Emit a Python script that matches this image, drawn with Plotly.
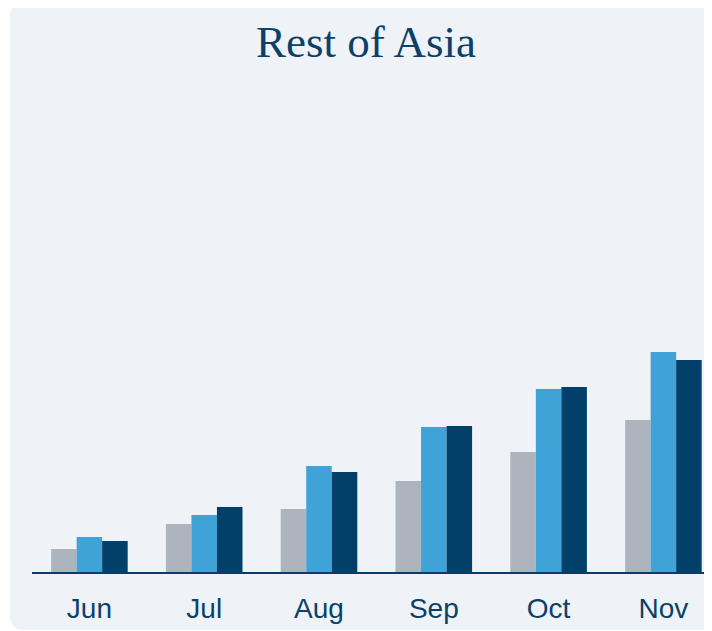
import plotly.graph_objects as go

months = ["Jun", "Jul", "Aug", "Sep", "Oct", "Nov"]
series_gray = [23, 48, 63, 91, 120, 152]
series_blue = [35, 57, 106, 145, 183, 220]
series_navy = [31, 65, 100, 146, 185, 212]

# page has an 8px body margin, so the figure is sized to fit the window
W, H = 704, 623
ML, MR, MT, MB = 24, 0, 82, 59
PW, PH = W - ML - MR, H - MT - MB

def px(x):
    return (x - ML) / PW

def py(y):
    return 1 - (y - MT) / PH

fig = go.Figure()
fig.add_bar(x=months, y=series_gray, marker_color="#adb4bd", marker_line_width=0, name="gray")
fig.add_bar(x=months, y=series_blue, marker_color="#3fa3d7", marker_line_width=0, name="blue")
fig.add_bar(x=months, y=series_navy, marker_color="#02406a", marker_line_width=0, name="navy")

# rounded panel
x0, y0, x1, y1, r = 2, -6, 730, 622, 14
path = (
    f"M {px(x0 + r)} {py(y0)} L {px(x1 - r)} {py(y0)} "
    f"Q {px(x1)} {py(y0)} {px(x1)} {py(y0 + r)} "
    f"L {px(x1)} {py(y1 - r)} Q {px(x1)} {py(y1)} {px(x1 - r)} {py(y1)} "
    f"L {px(x0 + r)} {py(y1)} Q {px(x0)} {py(y1)} {px(x0)} {py(y1 - r)} "
    f"L {px(x0)} {py(y0 + r)} Q {px(x0)} {py(y0)} {px(x0 + r)} {py(y0)} Z"
)
fig.add_shape(type="path", path=path, xref="paper", yref="paper",
              fillcolor="#eff3f7", line_width=0, layer="below")

fig.update_layout(
    width=W, height=H,
    margin=dict(l=ML, r=MR, t=MT, b=MB),
    paper_bgcolor="white",
    plot_bgcolor="rgba(0,0,0,0)",
    barmode="group",
    bargap=0.333,
    bargroupgap=0,
    showlegend=False,
    title=dict(text="Rest of Asia", x=358 / W, xref="container", xanchor="center",
               y=1 - 33 / H, yanchor="middle",
               font=dict(family="Liberation Serif", size=45, color="#0b4169")),
)
fig.update_xaxes(
    range=[-0.5, -0.5 + PW / 114.8],
    showline=True, linecolor="#02406a", linewidth=2,
    showgrid=False, zeroline=False,
    ticks="outside", ticklen=0, ticklabelstandoff=10,
    tickfont=dict(family="Liberation Sans", size=28, color="#0b4169"),
)
fig.update_yaxes(range=[0, PH], visible=False, showgrid=False, zeroline=False)

fig.write_html("out.html")
